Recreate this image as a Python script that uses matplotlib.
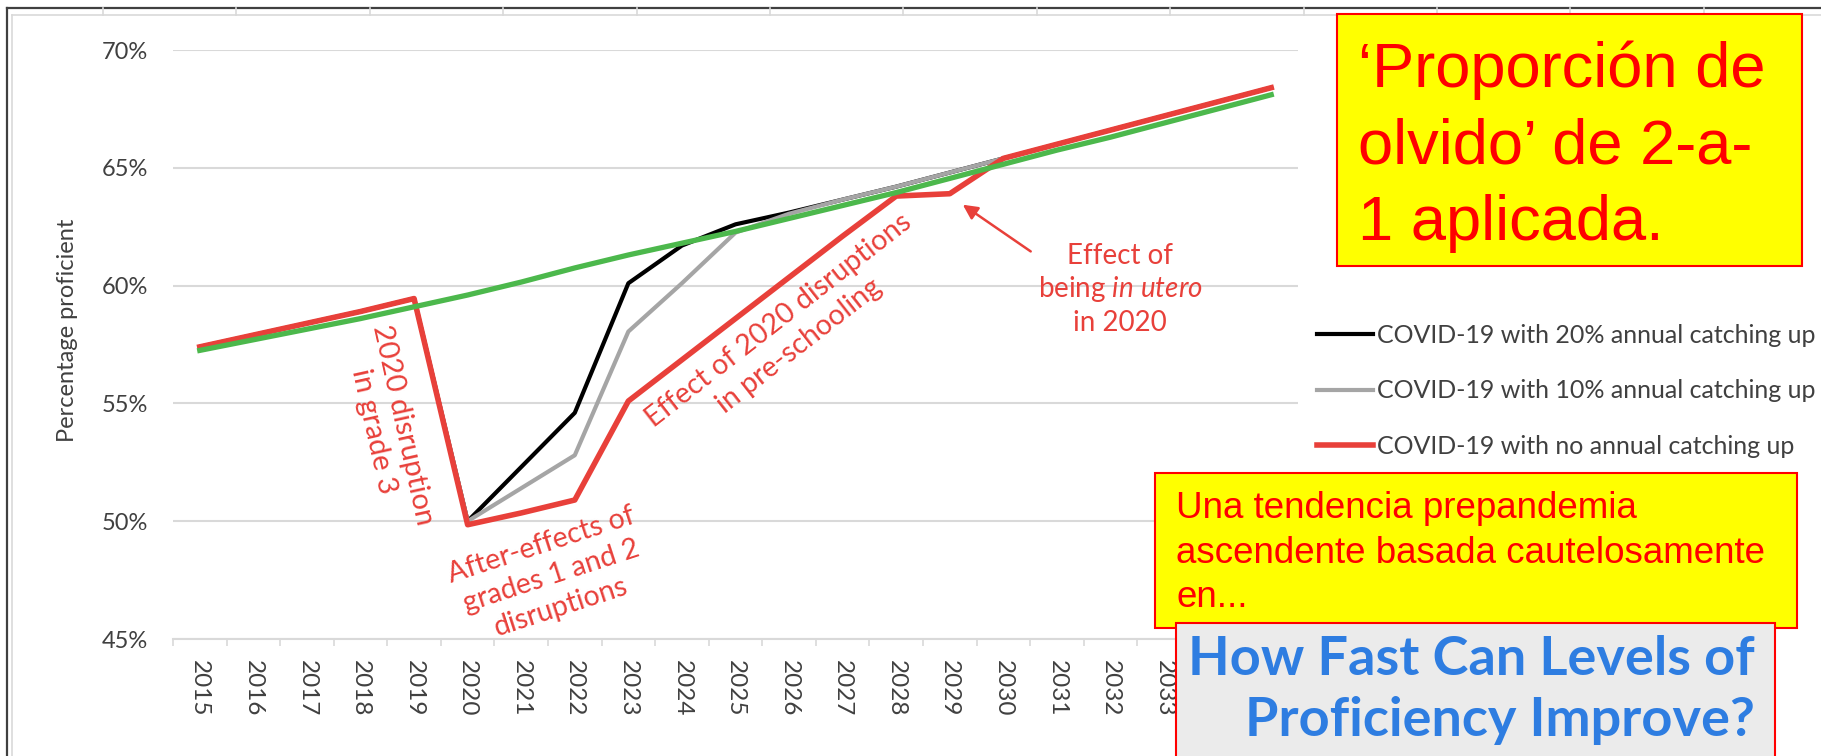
import matplotlib
matplotlib.use("Agg")
import matplotlib.pyplot as plt
from matplotlib.patches import Rectangle
from matplotlib.lines import Line2D
import numpy as np

years = list(range(2015, 2036))
trend = [57.25, 57.7, 58.15, 58.6, 59.1, 59.6, 60.15, 60.75, 61.3, 61.8, 62.3,
         62.85, 63.4, 63.95, 64.55, 65.15, 65.75, 66.3, 66.9, 67.5, 68.1]
catch20 = [57.4, 57.9, 58.4, 58.9, 59.45, 50.0, 52.3, 54.6, 60.1, 61.7, 62.6,
           63.1, 63.65, 64.2, 64.8, 65.4, 66.0, 66.6, 67.2, 67.8, 68.4]
catch10 = [57.4, 57.9, 58.4, 58.9, 59.45, 50.0, 51.4, 52.8, 58.05, 60.1, 62.25,
           63.05, 63.65, 64.2, 64.8, 65.4, 66.0, 66.6, 67.2, 67.8, 68.4]
no_catch = [57.4, 57.9, 58.4, 58.9, 59.45, 49.85, 50.35, 50.9, 55.1, 56.85, 58.6,
            60.35, 62.1, 63.8, 63.9, 65.4, 66.0, 66.6, 67.2, 67.8, 68.4]
legend_labels = ['COVID-19 with 20% annual catching up',
                 'COVID-19 with 10% annual catching up',
                 'COVID-19 with no annual catching up']
y_ticks = [45, 50, 55, 60, 65, 70]

plt.rcParams['font.family'] = ['Lato', 'DejaVu Sans']
plt.rcParams['mathtext.fontset'] = 'custom'
plt.rcParams['mathtext.rm'] = 'Lato'
plt.rcParams['mathtext.it'] = 'Lato:italic'

W, H = 1821, 756
fig = plt.figure(figsize=(W / 100, H / 100), dpi=100)


def fx(x):
    return x / W


def fy(y):
    return 1 - y / H


RED = '#E8403A'
GRID = '#D9D9D9'
TICK = '#404040'

ax = fig.add_axes([fx(173), fy(639), fx(1298) - fx(173), fy(50) - fy(639)])
xs = np.arange(len(years))
l20, = ax.plot(xs, catch20, color='black', lw=3)
l10, = ax.plot(xs, catch10, color='#A5A5A5', lw=3)
lno, = ax.plot(xs, no_catch, color=RED, lw=4)
ax.plot(xs, trend, color='#4CB84C', lw=3.8)

ax.set_xlim(-0.5, len(years) - 0.5)
ax.set_ylim(45, 70)
ax.set_yticks(y_ticks)
ax.set_yticklabels([f'{v}%' for v in y_ticks])
ax.set_xticks(xs)
ax.set_xticklabels([str(y) for y in years], rotation=-90)
ax.set_xticks(np.arange(-0.5, len(years), 1), minor=True)
ax.tick_params(axis='x', which='major', length=0, pad=15, labelsize=17.5, labelcolor=TICK)
ax.tick_params(axis='x', which='minor', length=5, width=1.2, color=GRID)
ax.tick_params(axis='y', length=0, pad=18, labelsize=17, labelcolor=TICK)
# the last two year labels sit under the grey title box
for lab in ax.get_xticklabels()[-2:]:
    lab.set_visible(False)
for s in ['left', 'top', 'right']:
    ax.spines[s].set_visible(False)
ax.spines['bottom'].set_color(GRID)
ax.spines['bottom'].set_linewidth(1.5)
ax.yaxis.grid(True, color=GRID, lw=1.5)
ax.set_axisbelow(True)

fig.text(fx(68), fy(330), 'Percentage proficient', rotation=90, ha='center',
         va='center', fontsize=17, color=TICK)

# annotations
ax.text(fx(388), fy(428), '2020 disruption\nin grade 3', transform=fig.transFigure,
        rotation=-77.5, rotation_mode='anchor', ha='center', va='center',
        multialignment='center', fontsize=21, color=RED, linespacing=1.2)
ax.text(fx(551), fy(576), 'After-effects of\ngrades 1 and 2\ndisruptions',
        transform=fig.transFigure, rotation=18, rotation_mode='anchor',
        ha='center', va='center', multialignment='center', fontsize=20.5,
        color=RED, linespacing=1.3)
ax.text(fx(789), fy(333), 'Effect of 2020 disruptions\nin pre-schooling',
        transform=fig.transFigure, rotation=38, rotation_mode='anchor',
        ha='center', va='center', multialignment='center', fontsize=20.5,
        color=RED, linespacing=1.3)
ax.text(fx(1120), fy(289), 'Effect of\nbeing $in\\ utero$\nin 2020',
        transform=fig.transFigure, ha='center', va='center',
        multialignment='center', fontsize=20, color=RED, linespacing=1.25)
ax.annotate('', xy=(14.2, 63.5), xycoords='data',
            xytext=(fx(1033), fy(253)), textcoords='figure fraction',
            arrowprops=dict(arrowstyle='-|>', color=RED, lw=1.8, mutation_scale=22))

fig.legend(handles=[l20, l10, lno], labels=legend_labels, loc='upper left',
           bbox_to_anchor=(fx(1317), fy(324)), frameon=False, fontsize=18,
           handlelength=2.25, handletextpad=0.15, labelspacing=1.3,
           borderpad=0, borderaxespad=0, labelcolor=TICK)

# outer frame of the pasted chart
fig.add_artist(Line2D([fx(7), 1], [fy(8), fy(8)], color='#404040', lw=1.6))
fig.add_artist(Line2D([fx(7), fx(7)], [fy(8), 0], color='#404040', lw=1.6))
fig.add_artist(Line2D([fx(12), 1], [fy(15), fy(15)], color=GRID, lw=1.2))
fig.add_artist(Line2D([fx(12), fx(12)], [fy(15), 0], color=GRID, lw=1.2))
for tx in np.arange(103, W, 133.4):
    fig.add_artist(Line2D([fx(tx), fx(tx)], [fy(8), fy(15)], color=GRID, lw=1.2))

# title box
fig.add_artist(Rectangle((fx(1337), fy(266)), fx(1802) - fx(1337), fy(14) - fy(266),
                         transform=fig.transFigure, facecolor='#FFFF00',
                         edgecolor='#FF0000', lw=1.5, zorder=5))
for txt, base in zip(['\u2018Proporción de', 'olvido\u2019 de 2-a-', '1 aplicada.'],
                     [87, 163, 240]):
    fig.text(fx(1358), fy(base), txt, fontsize=45.5, color='#FF0000',
             family='Liberation Sans', va='baseline', ha='left', zorder=6)

# lower yellow box
fig.add_artist(Rectangle((fx(1155), fy(628)), fx(1797) - fx(1155), fy(473) - fy(628),
                         transform=fig.transFigure, facecolor='#FFFF00',
                         edgecolor='#FF0000', lw=1.5, zorder=5))
for txt, base in zip(['Una tendencia prepandemia', 'ascendente basada cautelosamente', 'en...'],
                     [518, 563, 607]):
    fig.text(fx(1176), fy(base), txt, fontsize=26.5, color='#FF0000',
             family='Liberation Sans', va='baseline', ha='left', zorder=6)

# grey title box
fig.add_artist(Rectangle((fx(1176), fy(762)), fx(1775) - fx(1176), fy(623) - fy(762),
                         transform=fig.transFigure, facecolor='#EBEBEB',
                         edgecolor='#FF0000', lw=1.5, zorder=7))
for txt, base in zip(['How Fast Can Levels of', 'Proficiency Improve?'], [675, 736]):
    fig.text(fx(1755), fy(base), txt, fontsize=39, color='#2E7DE1',
             fontweight='bold', va='baseline', ha='right', zorder=8)

fig.savefig('out.png', dpi=100)
